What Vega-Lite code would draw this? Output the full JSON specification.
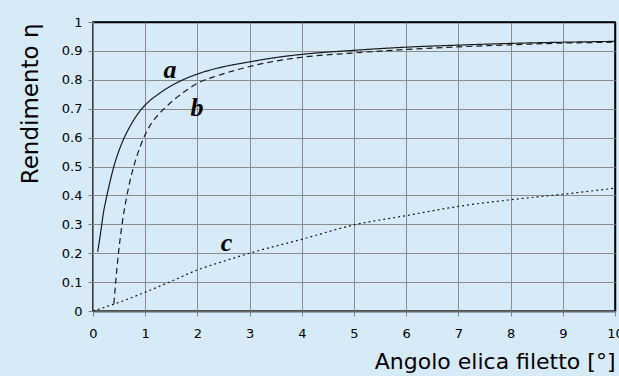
{
  "$schema": "https://vega.github.io/schema/vega-lite/v6.json",
  "width": 522,
  "height": 289,
  "autosize": {"type": "none"},
  "padding": {"left": 93, "top": 22, "right": 4, "bottom": 65},
  "background": "#d6eaf8",
  "config": {
    "view": {"stroke": "#000000", "strokeWidth": 1.5, "fill": "#d6eaf8"},
    "font": "DejaVu Sans"
  },
  "datasets": {
    "curves": [
      {"serie": "a", "x": 0.09, "y": 0.205},
      {"serie": "a", "x": 0.12, "y": 0.24},
      {"serie": "a", "x": 0.15, "y": 0.276},
      {"serie": "a", "x": 0.2, "y": 0.34},
      {"serie": "a", "x": 0.26, "y": 0.394},
      {"serie": "a", "x": 0.32, "y": 0.443},
      {"serie": "a", "x": 0.39, "y": 0.494},
      {"serie": "a", "x": 0.48, "y": 0.546},
      {"serie": "a", "x": 0.58, "y": 0.592},
      {"serie": "a", "x": 0.7, "y": 0.636},
      {"serie": "a", "x": 0.82, "y": 0.672},
      {"serie": "a", "x": 0.96, "y": 0.705},
      {"serie": "a", "x": 1.09, "y": 0.728},
      {"serie": "a", "x": 1.25, "y": 0.75},
      {"serie": "a", "x": 1.475, "y": 0.777},
      {"serie": "a", "x": 1.7, "y": 0.798},
      {"serie": "a", "x": 2, "y": 0.82},
      {"serie": "a", "x": 2.4, "y": 0.841},
      {"serie": "a", "x": 3, "y": 0.862},
      {"serie": "a", "x": 3.5, "y": 0.877},
      {"serie": "a", "x": 4, "y": 0.888},
      {"serie": "a", "x": 5, "y": 0.902},
      {"serie": "a", "x": 6, "y": 0.913},
      {"serie": "a", "x": 7, "y": 0.92},
      {"serie": "a", "x": 8, "y": 0.926},
      {"serie": "a", "x": 9, "y": 0.93},
      {"serie": "a", "x": 10, "y": 0.933},
      {"serie": "b", "x": 0.4, "y": 0.025},
      {"serie": "b", "x": 0.435, "y": 0.1},
      {"serie": "b", "x": 0.485, "y": 0.196},
      {"serie": "b", "x": 0.53, "y": 0.264},
      {"serie": "b", "x": 0.58, "y": 0.328},
      {"serie": "b", "x": 0.645, "y": 0.395},
      {"serie": "b", "x": 0.7, "y": 0.443},
      {"serie": "b", "x": 0.76, "y": 0.487},
      {"serie": "b", "x": 0.85, "y": 0.541},
      {"serie": "b", "x": 0.96, "y": 0.594},
      {"serie": "b", "x": 1.08, "y": 0.638},
      {"serie": "b", "x": 1.22, "y": 0.673},
      {"serie": "b", "x": 1.41, "y": 0.708},
      {"serie": "b", "x": 1.73, "y": 0.756},
      {"serie": "b", "x": 2, "y": 0.788},
      {"serie": "b", "x": 2.4, "y": 0.815},
      {"serie": "b", "x": 3, "y": 0.846},
      {"serie": "b", "x": 3.5, "y": 0.865},
      {"serie": "b", "x": 4, "y": 0.878},
      {"serie": "b", "x": 5, "y": 0.893},
      {"serie": "b", "x": 6, "y": 0.905},
      {"serie": "b", "x": 7, "y": 0.914},
      {"serie": "b", "x": 8, "y": 0.921},
      {"serie": "b", "x": 9, "y": 0.927},
      {"serie": "b", "x": 10, "y": 0.93},
      {"serie": "c", "x": 0, "y": 0},
      {"serie": "c", "x": 0.5, "y": 0.03},
      {"serie": "c", "x": 1, "y": 0.065},
      {"serie": "c", "x": 1.5, "y": 0.103},
      {"serie": "c", "x": 2, "y": 0.142},
      {"serie": "c", "x": 2.5, "y": 0.172},
      {"serie": "c", "x": 3, "y": 0.2},
      {"serie": "c", "x": 4, "y": 0.248},
      {"serie": "c", "x": 5, "y": 0.298},
      {"serie": "c", "x": 6, "y": 0.33},
      {"serie": "c", "x": 7, "y": 0.362},
      {"serie": "c", "x": 8, "y": 0.385},
      {"serie": "c", "x": 9, "y": 0.404},
      {"serie": "c", "x": 10, "y": 0.425}
    ],
    "labels": [
      {"label": "a", "x": 1.475, "y": 0.807},
      {"label": "b", "x": 1.99, "y": 0.676},
      {"label": "c", "x": 2.56, "y": 0.206}
    ]
  },
  "encoding": {
    "x": {
      "field": "x", "type": "quantitative",
      "scale": {"domain": [0, 10], "nice": false, "zero": false},
      "axis": {
        "title": "Angolo elica filetto [°]",
        "values": [0, 1, 2, 3, 4, 5, 6, 7, 8, 9, 10],
        "format": "d",
        "labelFont": "DejaVu Sans", "labelFontSize": 13, "labelColor": "#000000",
        "labelPadding": 11, "labelFlush": false, "labelOverlap": false,
        "tickSize": 5, "tickColor": "#808080", "tickWidth": 1,
        "domainColor": "#666666", "domainWidth": 2,
        "grid": true,
        "gridColor": {"condition": {"test": "datum.value == 10", "value": "#000000"}, "value": "#8c8c8c"},
        "gridWidth": {"condition": {"test": "datum.value == 10", "value": 1.5}, "value": 1},
        "titleFont": "DejaVu Sans", "titleFontSize": 22, "titleFontWeight": "normal", "titleColor": "#000000",
        "titleAnchor": "end", "titleAlign": "right", "titleBaseline": "alphabetic",
        "titleX": 522, "titleY": 57
      }
    },
    "y": {
      "field": "y", "type": "quantitative",
      "scale": {"domain": [0, 1], "nice": false},
      "axis": {
        "title": "Rendimento η",
        "values": [0, 0.1, 0.2, 0.3, 0.4, 0.5, 0.6, 0.7, 0.8, 0.9, 1],
        "format": "~g",
        "labelFont": "DejaVu Sans", "labelFontSize": 13, "labelColor": "#000000",
        "labelPadding": 6, "labelFlush": false, "labelOverlap": false,
        "tickSize": 5, "tickColor": "#808080", "tickWidth": 1,
        "domainColor": "#808080", "domainWidth": 1,
        "grid": true,
        "gridColor": {"condition": {"test": "datum.value == 1", "value": "#000000"}, "value": "#8c8c8c"},
        "gridWidth": {"condition": {"test": "datum.value == 1", "value": 1.5}, "value": 1},
        "titleFont": "DejaVu Sans", "titleFontSize": 23, "titleFontWeight": "normal", "titleColor": "#000000",
        "titleAnchor": "end", "titleAlign": "right", "titleBaseline": "alphabetic", "titleAngle": -90,
        "titleX": -56, "titleY": 1
      }
    }
  },
  "layer": [
    {
      "data": {"name": "curves"},
      "mark": {"type": "line", "interpolate": "monotone", "color": "#1a1a1a", "strokeWidth": 1.2},
      "encoding": {
        "detail": {"field": "serie", "type": "nominal"},
        "strokeDash": {
          "field": "serie", "type": "nominal",
          "scale": {"domain": ["a", "b", "c"], "range": [[1, 0], [6, 4], [2, 3]]},
          "legend": null
        }
      }
    },
    {
      "data": {"name": "labels"},
      "mark": {"type": "text", "font": "Liberation Serif", "fontSize": 26, "fontWeight": "bold", "fontStyle": "italic", "align": "center", "baseline": "alphabetic", "color": "#000000"},
      "encoding": {
        "text": {"field": "label", "type": "nominal"}
      }
    }
  ]
}
